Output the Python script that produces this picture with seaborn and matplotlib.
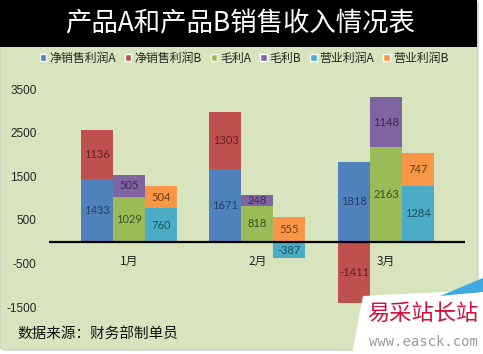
import numpy as np
import pandas as pd
import matplotlib
matplotlib.use("Agg")
import matplotlib.pyplot as plt
from matplotlib.patches import Patch, Rectangle, FancyBboxPatch, Polygon
import seaborn as sns

# data
months = ["1月", "2月", "3月"]
metrics = ["净销售利润", "毛利", "营业利润"]
net_a = [1433, 1671, 1818]
net_b = [1136, 1303, -1411]
gross_a = [1029, 818, 2163]
gross_b = [505, 248, 1148]
op_a = [760, -387, 1284]
op_b = [504, 555, 747]
yticks = [-1500, -500, 500, 1500, 2500, 3500]

colors_a = {"净销售利润": "#4F81BD", "毛利": "#9BBB59", "营业利润": "#4BACC6"}
colors_b = {"净销售利润": "#C0504D", "毛利": "#8064A2", "营业利润": "#F79646"}
label_a = {"净销售利润": "#233f66", "毛利": "#3c4f1c", "营业利润": "#1d5060"}
label_b = {"净销售利润": "#5e2220", "毛利": "#372950", "营业利润": "#6e3a0c"}

rows = []
for metric, a_vals, b_vals in zip(metrics, [net_a, gross_a, op_a], [net_b, gross_b, op_b]):
    for m, a, b in zip(months, a_vals, b_vals):
        # excel stacking: same sign stacks, opposite sign starts at zero
        base = a if np.sign(a) == np.sign(b) else 0
        rows.append({"月份": m, "指标": metric, "A": a, "B": b, "base": base, "B_top": base + b})
df = pd.DataFrame(rows)

sns.set_theme(style="white")
plt.rcParams["font.family"] = ["Noto Sans CJK SC", "DejaVu Sans"]

W, H = 483, 354
fig = plt.figure(figsize=(W / 100, H / 100), dpi=100, facecolor="white")

# chart background + title band
fig.patches.append(FancyBboxPatch((0, 4 / H), 478 / W, 350 / H, boxstyle="round,pad=0,rounding_size=0.012",
                                  transform=fig.transFigure, facecolor="#D7E4BD", edgecolor="#c8c8c8",
                                  lw=0.8, zorder=-10))
fig.patches.append(Rectangle((0, (H - 47) / H), 477 / W, 47 / H, transform=fig.transFigure,
                             facecolor="black", edgecolor="none", zorder=-5))
fig.text(240 / W, (H - 24) / H, "产品A和产品B销售收入情况表", color="white", fontsize=19,
         ha="center", va="center")

ax = fig.add_axes([49 / W, (H - 307) / H, 416 / W, 218 / H])
ax.set_facecolor("none")

sns.barplot(data=df, x="月份", y="B_top", hue="指标", hue_order=metrics, order=months,
            palette=colors_b, width=0.747, saturation=1, errorbar=None, legend=False,
            linewidth=0, ax=ax)
sns.barplot(data=df, x="月份", y="A", hue="指标", hue_order=metrics, order=months,
            palette=colors_a, width=0.747, saturation=1, errorbar=None, legend=False,
            linewidth=0, ax=ax)

# data labels
for k, metric in enumerate(metrics):
    cont_b = ax.containers[k]
    cont_a = ax.containers[3 + k]
    for j, m in enumerate(months):
        r = df[(df["指标"] == metric) & (df["月份"] == m)].iloc[0]
        pa = cont_a.patches[j]
        x = pa.get_x() + pa.get_width() / 2
        ax.text(x, r["A"] / 2, f"{r['A']}", ha="center", va="center", fontsize=8,
                family="Lato", color=label_a[metric])
        ax.text(x, r["base"] + r["B"] / 2, f"{r['B']}", ha="center", va="center", fontsize=8,
                family="Lato", color=label_b[metric])

ax.set_xlim(-0.6226, 2.615)
ax.set_ylim(-1500, 3500)
ax.axhline(0, color="black", lw=1.6, zorder=3)
ax.set_yticks(yticks)
ax.set_yticklabels([str(v) for v in yticks], family="Liberation Sans", fontsize=8.5)
ax.tick_params(axis="y", length=0, pad=9)
ax.set_xticks([])
ax.set_xlabel("")
ax.set_ylabel("")
for s in ax.spines.values():
    s.set_visible(False)
for i, m in enumerate(months):
    ax.annotate(m, xy=(i, 0), xytext=(0, -14.5), textcoords="offset points",
                ha="center", va="center", fontsize=8.5)

# legend
handles = []
for metric in metrics:
    handles.append(Patch(facecolor=colors_a[metric], label=metric + "A"))
    handles.append(Patch(facecolor=colors_b[metric], label=metric + "B"))
fig.legend(handles=handles, loc="center", bbox_to_anchor=(244 / W, (H - 58) / H), ncol=6,
           frameon=False, fontsize=8.6, handlelength=0.55, handleheight=0.55,
           handletextpad=0.25, columnspacing=0.75, borderpad=0)

fig.text(17 / W, (H - 334) / H, "数据来源：财务部制单员", fontsize=10.5, ha="left", va="center",
         color="#111111")

# watermark
fig.patches.append(Polygon([(352 / W, 0), (363 / W, (H - 296) / H), (483 / W, (H - 290) / H), (1, 0)],
                           closed=True, transform=fig.transFigure, facecolor="white",
                           edgecolor="none", zorder=5))
fig.patches.append(Polygon([(440 / W, (H - 296) / H), (1, (H - 278) / H), (1, (H - 292) / H)],
                           closed=True, transform=fig.transFigure, facecolor="#3fa9e0",
                           edgecolor="none", zorder=5))
fig.text(423 / W, (H - 313) / H, "易采站长站", fontsize=16, color="#d0103a", ha="center",
         va="center", zorder=6)
fig.text(423 / W, (H - 342) / H, "www.easck.com", fontsize=10, color="#9a9a9a", ha="center",
         va="center", family="DejaVu Sans Mono", zorder=6)

fig.savefig("out.png", dpi=100)
